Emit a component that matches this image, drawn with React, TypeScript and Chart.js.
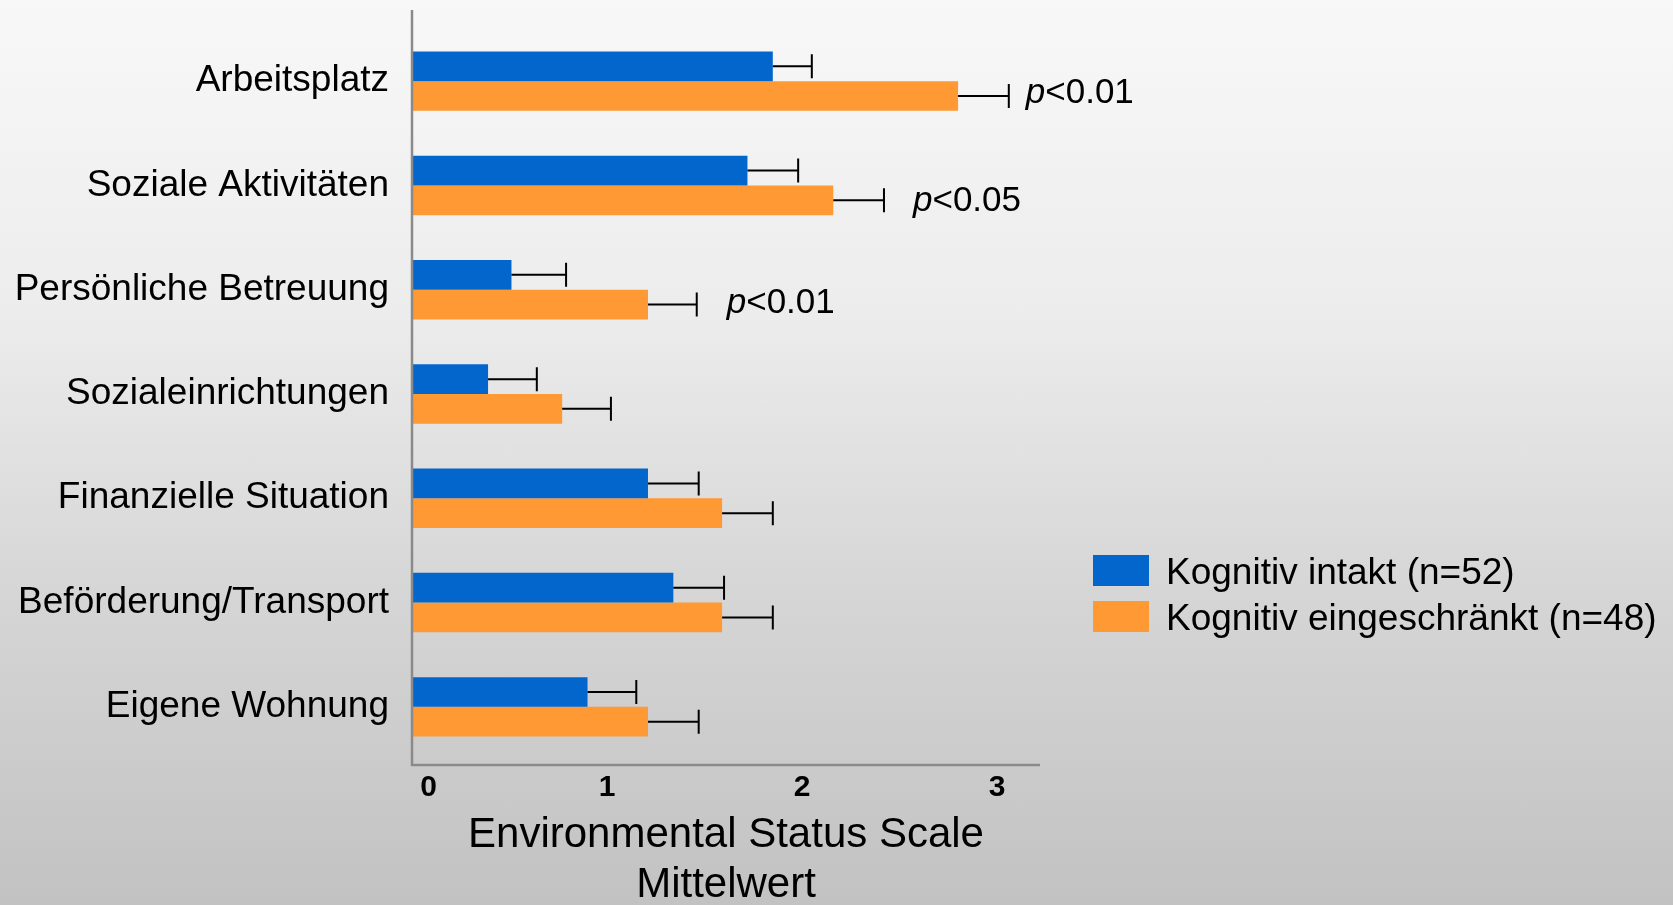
import React, { useEffect, useRef } from 'react';
import { Chart, registerables } from 'chart.js';

Chart.register(...registerables);

// ---------- data ----------
const categories = [
  'Arbeitsplatz',
  'Soziale Aktivitäten',
  'Persönliche Betreuung',
  'Sozialeinrichtungen',
  'Finanzielle Situation',
  'Beförderung/Transport',
  'Eigene Wohnung',
];
const seriesNames = ['Kognitiv intakt (n=52)', 'Kognitiv eingeschränkt (n=48)'];
const intaktMeans = [1.85, 1.72, 0.51, 0.39, 1.21, 1.34, 0.9];
const intaktErrors = [0.2, 0.26, 0.28, 0.25, 0.26, 0.26, 0.25];
const eingeschraenktMeans = [2.8, 2.16, 1.21, 0.77, 1.59, 1.59, 1.21];
const eingeschraenktErrors = [0.26, 0.26, 0.25, 0.25, 0.26, 0.26, 0.26];
const xTickValues = [0, 1, 2, 3];
const xTickLabels = ['0', '1', '2', '3'];
const xMin = 0;
const xMax = 3.22;
const axisTitle = ['Environmental Status Scale', 'Mittelwert'];
const pCategories = ['Arbeitsplatz', 'Soziale Aktivitäten', 'Persönliche Betreuung'];
const pTexts = ['<0.01', '<0.05', '<0.01'];

// ---------- style ----------
const FONT = "'Liberation Sans', Arial, Helvetica, sans-serif";
const BLUE = '#0366CC';
const ORANGE = '#FF9933';
const AXIS_COLOR = '#8a8a8a';
const W = 1673;
const H = 905;
const pOffsets = [
  { dx: 17, dy: 7 },
  { dx: 29, dy: 11 },
  { dx: 30, dy: 8 },
];
const legendStyle = { x: 1093, y: [555, 601], boxW: 56, boxH: 31, textX: 1166, font: 37 };
// the first tick label sits a little right of the axis line in the reference
const firstTickPrefix = '\u2007\u2007';

const overlayPlugin = {
  id: 'overlay',
  afterDatasetsDraw(chart: any) {
    const ctx = chart.ctx;
    const xs = chart.scales.x;
    ctx.save();
    ctx.strokeStyle = '#000';
    ctx.lineWidth = 2;
    chart.data.datasets.forEach((ds: any, i: number) => {
      const meta = chart.getDatasetMeta(i);
      meta.data.forEach((bar: any, j: number) => {
        const v = ds.data[j];
        const e = ds.errors[j];
        const x0 = bar.x;
        const x1 = xs.getPixelForValue(v + e);
        const y = bar.y;
        ctx.beginPath();
        ctx.moveTo(x0, y);
        ctx.lineTo(x1, y);
        ctx.moveTo(x1, y - 12);
        ctx.lineTo(x1, y + 12);
        ctx.stroke();
      });
    });
    ctx.restore();
  },
  afterDraw(chart: any) {
    const ctx = chart.ctx;
    const xs = chart.scales.x;
    const area = chart.chartArea;
    const x0 = xs.getPixelForValue(0);
    ctx.save();
    // axis lines
    ctx.strokeStyle = AXIS_COLOR;
    ctx.lineWidth = 2.5;
    ctx.beginPath();
    ctx.moveTo(x0, 10);
    ctx.lineTo(x0, area.bottom + 6);
    ctx.lineTo(area.right, area.bottom + 6);
    ctx.stroke();

    // p annotations
    const orangeDs = chart.data.datasets[1];
    const orangeMeta = chart.getDatasetMeta(1);
    pCategories.forEach((cat, k) => {
      const j = categories.indexOf(cat);
      const bar = orangeMeta.data[j];
      const xEnd = xs.getPixelForValue(orangeDs.data[j] + orangeDs.errors[j]);
      const x = xEnd + pOffsets[k].dx;
      const y = bar.y + pOffsets[k].dy;
      ctx.fillStyle = '#000';
      ctx.textBaseline = 'alphabetic';
      ctx.textAlign = 'left';
      ctx.font = `italic 35px ${FONT}`;
      ctx.fillText('p', x, y);
      const pw = ctx.measureText('p').width;
      ctx.font = `35px ${FONT}`;
      ctx.fillText(pTexts[k], x + pw, y);
    });

    // legend
    chart.data.datasets.forEach((ds: any, i: number) => {
      const y = legendStyle.y[i];
      ctx.fillStyle = ds.backgroundColor;
      ctx.fillRect(legendStyle.x, y, legendStyle.boxW, legendStyle.boxH);
      ctx.fillStyle = '#000';
      ctx.font = `${legendStyle.font}px ${FONT}`;
      ctx.textBaseline = 'alphabetic';
      ctx.textAlign = 'left';
      ctx.fillText(ds.label, legendStyle.textX, y + legendStyle.boxH / 2 + 13);
    });
    ctx.restore();
  },
};

export default function App() {
  const ref = useRef<HTMLCanvasElement | null>(null);

  useEffect(() => {
    if (!ref.current) return;
    Chart.defaults.font.family = FONT;
    const chart = new Chart(ref.current, {
      type: 'bar',
      data: {
        labels: categories,
        datasets: [
          {
            label: seriesNames[0],
            data: intaktMeans,
            errors: intaktErrors,
            backgroundColor: BLUE,
            borderWidth: 0,
            categoryPercentage: 0.57,
            barPercentage: 1,
          } as any,
          {
            label: seriesNames[1],
            data: eingeschraenktMeans,
            errors: eingeschraenktErrors,
            backgroundColor: ORANGE,
            borderWidth: 0,
            categoryPercentage: 0.57,
            barPercentage: 1,
          } as any,
        ],
      },
      options: {
        indexAxis: 'y',
        responsive: false,
        animation: false,
        layout: { padding: { top: 29, right: W - 1040, bottom: 0, left: 0 } },
        plugins: {
          legend: { display: false },
          tooltip: { enabled: false },
        },
        scales: {
          x: {
            type: 'linear',
            min: xMin,
            max: xMax,
            grid: { display: false, drawTicks: false },
            border: { display: false },
            afterBuildTicks: (scale: any) => {
              scale.ticks = xTickValues.map((v) => ({ value: v }));
            },
            afterFit: (scale: any) => {
              scale.height = 146;
              scale.paddingLeft = 0;
              scale.paddingRight = 0;
            },
            ticks: {
              padding: 11,
              color: '#000',
              font: { size: 30, weight: 'bold', family: FONT },
              callback: (v: any) => {
                const k = xTickValues.indexOf(Number(v));
                if (k < 0) return '';
                return k === 0 ? firstTickPrefix + xTickLabels[k] : xTickLabels[k];
              },
            },
            title: {
              display: true,
              text: axisTitle,
              color: '#000',
              font: { size: 42, family: FONT, lineHeight: 50 / 42 },
              padding: { top: 0, bottom: -5 },
            },
          },
          y: {
            type: 'category',
            grid: { display: false, drawTicks: false },
            border: { display: false },
            afterFit: (scale: any) => {
              scale.width = 412;
              scale.paddingTop = 0;
              scale.paddingBottom = 0;
            },
            ticks: {
              padding: 23,
              color: '#000',
              font: { size: 37, family: FONT },
            },
          },
        },
      } as any,
      plugins: [overlayPlugin],
    });
    return () => chart.destroy();
  }, []);

  return (
    <div
      style={{
        position: 'fixed',
        left: 0,
        top: 0,
        width: W,
        height: H,
        background: 'linear-gradient(to bottom, #f8f8f8 0%, #ececec 35%, #d6d6d6 65%, #c2c2c2 100%)',
      }}
    >
      <canvas ref={ref} width={W} height={H} style={{ display: 'block' }} />
    </div>
  );
}
